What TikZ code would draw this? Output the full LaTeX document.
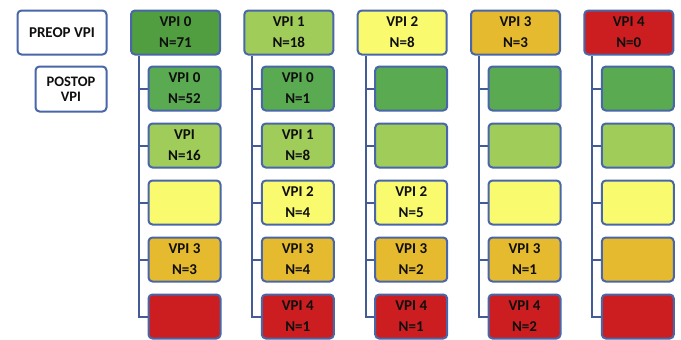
\documentclass[tikz,border=0pt]{standalone}
\usepackage{fontspec}
\setmainfont{Carlito}
\usetikzlibrary{calc}
\definecolor{gtop}{RGB}{80,158,64}
\definecolor{g0}{RGB}{90,170,82}
\definecolor{g1}{RGB}{160,204,90}
\definecolor{g2}{RGB}{250,250,110}
\definecolor{g3}{RGB}{230,186,46}
\definecolor{g4}{RGB}{204,30,32}
\definecolor{bord}{RGB}{72,102,168}
\definecolor{conncol}{RGB}{68,92,150}
\definecolor{txt}{RGB}{15,15,15}
\newcommand\vpicol[9]{%
  \node[topbox, fill=#3] (t#1) at (#2+45.5, 32.5) {#4};
  \node[childbox, fill=g0] (c#1a) at (#2+54.5, 88.5) {#5};
  \node[childbox, fill=g1] (c#1b) at (#2+54.5, 145.5) {#6};
  \node[childbox, fill=g2] (c#1c) at (#2+54.5, 202.5) {#7};
  \node[childbox, fill=g3] (c#1d) at (#2+54.5, 259.5) {#8};
  \node[childbox, fill=g4] (c#1e) at (#2+54.5, 316.5) {#9};
  \draw[conn] ($(t#1.south west)+(9,0)$) |- (c#1e.west);
  \foreach \k in {a,b,c,d} \draw[conn] (c#1\k.west) -- ++(-9,0);
}
\begin{document}
\begin{tikzpicture}[x=1pt,y=-1pt,
  basebox/.style={draw=bord, line width=2pt, rounded corners=4pt, align=center,
    inner sep=0pt, text=txt, font=\bfseries\fontsize{15}{21}\selectfont},
  topbox/.style={basebox, minimum width=89pt, minimum height=44pt},
  childbox/.style={basebox, minimum width=72pt, minimum height=44pt},
  conn/.style={draw=conncol, line width=2pt}]
\useasboundingbox (0,0) rectangle (681,340);
\node[basebox, fill=white, minimum width=89pt, minimum height=44pt] (preop) at (62,32.5) {PREOP VPI};
\node[basebox, fill=white, minimum width=71pt, minimum height=45pt,
  font=\bfseries\fontsize{14.5}{15}\selectfont] (postop) at (71,89) {POSTOP\\VPI};
\vpicol{0}{130}{gtop}{VPI 0\\N=71}{VPI 0\\N=52}{VPI\\N=16}{}{VPI 3\\N=3}{}
\vpicol{1}{243.3}{g1}{VPI 1\\N=18}{VPI 0\\N=1}{VPI 1\\N=8}{VPI 2\\N=4}{VPI 3\\N=4}{VPI 4\\N=1}
\vpicol{2}{356.7}{g2}{VPI 2\\N=8}{}{}{VPI 2\\N=5}{VPI 3\\N=2}{VPI 4\\N=1}
\vpicol{3}{470}{g3}{VPI 3\\N=3}{}{}{}{VPI 3\\N=1}{VPI 4\\N=2}
\vpicol{4}{583.3}{g4}{VPI 4\\N=0}{}{}{}{}{}
\end{tikzpicture}
\end{document}
